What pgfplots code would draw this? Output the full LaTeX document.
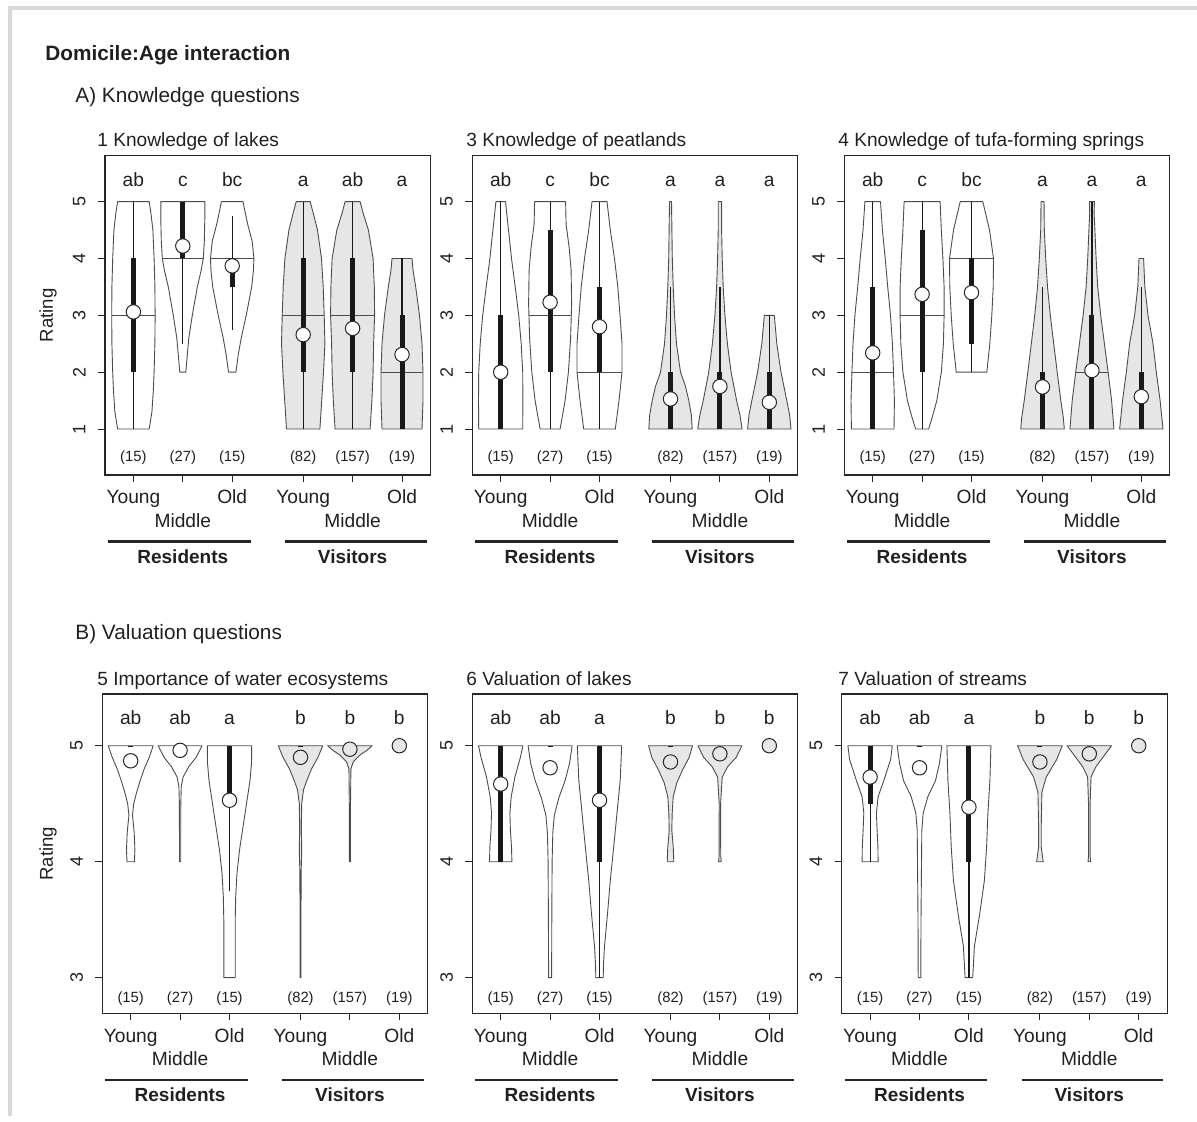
\documentclass[border=0pt]{standalone}
\usepackage{fontspec}
\setmainfont{Liberation Sans}
\usepackage{pgfplots}
\pgfplotsset{compat=1.18}
\definecolor{txt}{HTML}{231F20}
\definecolor{vis}{HTML}{E6E6E6}

% ---- violin drawing helpers ----
% x axis in pixels of the original panel, y axis in rating units
\newcommand\vshape[3]{% centre, fill, list of y/halfwidth
  \gdef\vR{}\gdef\vL{}%
  \foreach \yy/\ww in {#3}{%
    \pgfmathsetmacro\xa{#1+\ww}\pgfmathsetmacro\xb{#1-\ww}%
    \xdef\vR{\vR(\xa,\yy)}\xdef\vL{(\xb,\yy)\vL}}%
  \edef\vnext{\noexpand\addplot[vshape,fill=#2] coordinates {\vR\vL} -- cycle;}\vnext}
\newcommand\vmed[3]{% centre, median, half width
  \pgfmathsetmacro\xa{#1+#3}\pgfmathsetmacro\xb{#1-#3}%
  \edef\vnext{\noexpand\addplot[vmed] coordinates {(\xb,#2)(\xa,#2)};}\vnext}
\newcommand\vwh[3]{\addplot[whisk] coordinates {(#1,#2)(#1,#3)};}
\newcommand\viqr[3]{\addplot[iqr] coordinates {(#1,#2)(#1,#3)};}
\newcommand\vmean[3]{\addplot[only marks, mark=*, mark size=3.6pt,
   mark options={fill=#3, draw=black!85, line width=0.5pt}] coordinates {(#1,#2)};}
\newcommand\letters[7]{%
  \node[vlet] at (axis cs:28.4,#1) {#2};
  \node[vlet] at (axis cs:77.8,#1) {#3};
  \node[vlet] at (axis cs:127.2,#1) {#4};
  \node[vlet] at (axis cs:198.2,#1) {#5};
  \node[vlet] at (axis cs:247.6,#1) {#6};
  \node[vlet] at (axis cs:297,#1) {#7};}
\newcommand\counts[1]{%
  \node[vcnt] at (axis cs:28.4,#1) {(15)};
  \node[vcnt] at (axis cs:77.8,#1) {(27)};
  \node[vcnt] at (axis cs:127.2,#1) {(15)};
  \node[vcnt] at (axis cs:198.2,#1) {(82)};
  \node[vcnt] at (axis cs:247.6,#1) {(157)};
  \node[vcnt] at (axis cs:297,#1) {(19)};}

\tikzset{
  vlet/.style={anchor=base, text=txt, font=\fontsize{9.6}{11}\selectfont},
  vcnt/.style={anchor=center, text=txt, font=\fontsize{7.4}{8.5}\selectfont},
  ytl/.style={rotate=90, text=txt, font=\fontsize{9}{10}\selectfont},
}
\pgfplotsset{
  vshape/.style={draw=black!70, line width=0.45pt, line join=round},
  vmed/.style={draw=black!70, line width=0.45pt},
  whisk/.style={draw=black!90, line width=0.6pt},
  iqr/.style={draw=black!90, line width=2.5pt},
  vp/.style={scale only axis, width=162.75pt, height=159.65pt,
    xmin=0, xmax=325.5, xtick={28.4,77.8,127.2,198.2,247.6,297},
    xticklabels={}, yticklabels={},
    tick align=outside, tick pos=left, major tick length=3.5pt,
    axis line style={black!85, line width=0.65pt},
    tick style={black!85, line width=0.5pt},
    clip=false, anchor=south west},
  toprow/.style={vp, ymin=0.192, ymax=5.808, ytick={1,2,3,4,5},
    execute at end axis={\pgfplotsinvokeforeach{1,2,3,4,5}{%
      \node[ytl] at (axis cs:-25.7,##1) {##1};}}},
  botrow/.style={vp, ymin=2.693, ymax=5.446, ytick={3,4,5},
    execute at end axis={\pgfplotsinvokeforeach{3,4,5}{%
      \node[ytl] at (axis cs:-25.7,##1) {##1};}}},
}

\newcommand\plabels[2]{% left, bottom (pixels of the original)
  \node[lab] at (#1+28.4,1122-#2-29) {Young};
  \node[lab] at (#1+77.8,1122-#2-52.7) {Middle};
  \node[lab] at (#1+127.2,1122-#2-29) {Old};
  \node[lab] at (#1+198.2,1122-#2-29) {Young};
  \node[lab] at (#1+247.6,1122-#2-52.7) {Middle};
  \node[lab] at (#1+297,1122-#2-29) {Old};
  \draw[grp] (#1+3,1122-#2-66.7) -- (#1+145.7,1122-#2-66.7);
  \draw[grp] (#1+180,1122-#2-66.7) -- (#1+321.7,1122-#2-66.7);
  \node[glab] at (#1+77.8,1122-#2-88.3) {Residents};
  \node[glab] at (#1+247.6,1122-#2-88.3) {Visitors};}

\begin{document}
\begin{tikzpicture}[x=0.5pt,y=0.5pt,
  lab/.style={anchor=base, text=txt, font=\fontsize{9.6}{11}\selectfont},
  glab/.style={anchor=base, text=txt, font=\fontsize{9.5}{11}\selectfont\bfseries},
  grp/.style={draw=black!85, line width=1.3pt},
  ttl/.style={anchor=base west, inner sep=0pt, text=txt, font=\fontsize{9.55}{11}\selectfont}]
\useasboundingbox (0,0) rectangle (1197,1122);
\draw[black!15, line width=2pt] (8,1122-8.5) -- (1197,1122-8.5);
\draw[black!15, line width=2pt] (10.3,1122-7.5) -- (10.3,1122-1116);

\node[anchor=base west, inner sep=0pt, text=txt, font=\fontsize{10.4}{12}\selectfont\bfseries] at (45,1122-61) {Domicile:Age interaction};
\node[anchor=base west, inner sep=0pt, text=txt, font=\fontsize{10.4}{12}\selectfont] at (75,1122-102.7) {A) Knowledge questions};
\node[anchor=base west, inner sep=0pt, text=txt, font=\fontsize{10.4}{12}\selectfont] at (75,1122-640) {B) Valuation questions};
\node[rotate=90, text=txt, font=\fontsize{9.3}{11}\selectfont] at (48,1122-315.5) {Rating};
\node[rotate=90, text=txt, font=\fontsize{9.3}{11}\selectfont] at (48,1122-853.6) {Rating};

\node[ttl] at (97,1122-147) {1 Knowledge of lakes};
\node[ttl] at (466,1122-147) {3 Knowledge of peatlands};
\node[ttl] at (838,1122-147) {4 Knowledge of tufa-forming springs};
\node[ttl] at (97,1122-685.5) {5 Importance of water ecosystems};
\node[ttl] at (466,1122-685.5) {6 Valuation of lakes};
\node[ttl] at (838,1122-685.5) {7 Valuation of streams};

% ================= Panel 1 =================
\begin{axis}[toprow, at={(52.5pt,323.5pt)}]
\vshape{28.4}{white}{1/15.8, 1.3/18.5, 1.7/20, 2/20.7, 2.5/21.5, 3/21.7, 3.5/21.5, 4/20.7, 4.5/19.5, 4.8/17.5, 5/15.8}
\vmed{28.4}{3}{21.7}\vwh{28.4}{1}{5}\viqr{28.4}{2}{4}\vmean{28.4}{3.06}{white}
\vshape{77.8}{white}{2/3, 2.3/4.5, 2.6/6, 3/9.5, 3.5/14.5, 3.8/18.5, 4/20.5, 4.3/21.5, 4.7/22, 5/22}
\vmed{77.8}{4}{20.5}\vwh{77.8}{2.5}{5}\viqr{77.8}{4}{5}\vmean{77.8}{4.22}{white}
\vshape{127.2}{white}{2/3.7, 2.3/6, 2.6/9, 3/14, 3.5/19.5, 3.8/21.3, 4/21.7, 4.3/20, 4.6/15.5, 4.85/12.5, 5/10.8}
\vmed{127.2}{4}{21.7}\vwh{127.2}{2.75}{4.75}\viqr{127.2}{3.5}{4}\vmean{127.2}{3.87}{white}
\vshape{198.2}{vis}{1/16.7, 1.5/18.5, 2/20.3, 2.5/21.7, 3/21, 3.5/20, 4/18.3, 4.5/14.3, 4.8/10, 5/7}
\vmed{198.2}{3}{21}\vwh{198.2}{1}{5}\viqr{198.2}{2}{4}\vmean{198.2}{2.66}{white}
\vshape{247.6}{vis}{1/17.5, 1.5/19.3, 2/20.5, 2.5/21, 3/22, 3.5/21.7, 4/20.5, 4.5/15.8, 4.8/10.5, 5/7.5}
\vmed{247.6}{3}{22}\vwh{247.6}{1}{5}\viqr{247.6}{2}{4}\vmean{247.6}{2.77}{white}
\vshape{297}{vis}{1/20, 1.5/21, 2/21, 2.5/20, 3/17.5, 3.5/13.7, 3.8/11, 4/10}
\vmed{297}{2}{21}\vwh{297}{1}{4}\viqr{297}{1}{3}\vmean{297}{2.31}{white}
\letters{5.27}{ab}{c}{bc}{a}{ab}{a}
\counts{0.5}
\end{axis}

% ================= Panel 3 =================
\begin{axis}[toprow, at={(236.15pt,323.5pt)}]
\vshape{28.4}{white}{1/22, 1.5/22.2, 2/22, 2.5/20.5, 3/18, 3.5/14.5, 4/10.8, 4.5/7.8, 5/4.8}
\vwh{28.4}{1}{5}\viqr{28.4}{1}{3}\vmean{28.4}{2.0}{white}
\vshape{77.8}{white}{1/10, 1.5/15, 2/18.3, 2.6/20.5, 3.2/21.5, 3.8/21, 4.2/19, 4.6/16, 5/15.5}
\vmed{77.8}{3}{21.3}\vwh{77.8}{1}{5}\viqr{77.8}{2}{4.5}\vmean{77.8}{3.23}{white}
\vshape{127.2}{white}{1/15.8, 1.5/19.5, 2/22.5, 2.5/22.5, 3/20.5, 3.5/18.3, 4/15, 4.5/10.8, 5/7.5}
\vmed{127.2}{2}{22.5}\vwh{127.2}{1}{5}\viqr{127.2}{2}{3.5}\vmean{127.2}{2.80}{white}
\vshape{198.2}{vis}{1/21.7, 1.25/20.8, 1.5/18.3, 1.75/15, 2/10, 2.5/6, 3/4, 3.5/2.7, 4/1.8, 5/1}
\vwh{198.2}{1}{3.5}\viqr{198.2}{1}{2}\vmean{198.2}{1.53}{white}
\vshape{247.6}{vis}{1/22.2, 1.25/20, 1.5/16.7, 2/11.2, 2.5/7.5, 3/5, 3.5/3.3, 4/2.3, 4.5/1.7, 5/1.7}
\vwh{247.6}{1}{3.5}\viqr{247.6}{1}{2}\vmean{247.6}{1.75}{white}
\vshape{297}{vis}{1/21.7, 1.25/20.3, 1.5/17.5, 2/11.7, 2.5/7.5, 3/5}
\vwh{297}{1}{3}\viqr{297}{1}{2}\vmean{297}{1.47}{white}
\letters{5.27}{ab}{c}{bc}{a}{a}{a}
\counts{0.5}
\end{axis}

% ================= Panel 4 =================
\begin{axis}[toprow, at={(422.15pt,323.5pt)}]
\vshape{28.4}{white}{1/21.3, 1.5/21.7, 2/20.8, 2.5/19.7, 3/17.8, 3.5/15, 4/12.5, 4.5/9.7, 5/7.8}
\vmed{28.4}{2}{20.8}\vwh{28.4}{1}{5}\viqr{28.4}{1}{3.5}\vmean{28.4}{2.34}{white}
\vshape{77.8}{white}{1/6.5, 1.2/10, 1.5/14.7, 2/19.2, 2.5/21.3, 3/22, 3.5/22, 4/20.8, 4.5/19.2, 5/18}
\vmed{77.8}{3}{22}\vwh{77.8}{1}{5}\viqr{77.8}{2}{4.5}\vmean{77.8}{3.37}{white}
\vshape{127.2}{white}{2/15.3, 2.5/18.3, 3/20.3, 3.5/21.7, 4/22, 4.5/18, 5/11.3}
\vmed{127.2}{4}{22}\vwh{127.2}{2}{5}\viqr{127.2}{2.5}{4}\vmean{127.2}{3.40}{white}
\vshape{198.2}{vis}{1/21.8, 1.2/20.8, 1.5/18.3, 2/14.7, 2.5/11.2, 3/7.8, 3.5/5, 4/3.2, 4.5/1.8, 5/1.5}
\vwh{198.2}{1}{3.5}\viqr{198.2}{1}{2}\vmean{198.2}{1.74}{white}
\vshape{247.6}{vis}{1/22, 1.5/19.7, 2/16.2, 2.5/12.5, 3/8.8, 3.5/5.8, 4/4.2, 4.5/3, 4.8/2.2, 5/2.5}
\vmed{247.6}{2}{16.2}\vwh{247.6}{1}{5}\viqr{247.6}{1}{3}\vmean{247.6}{2.03}{white}
\vshape{297}{vis}{1/21.7, 1.5/18.8, 2/15, 2.5/11.7, 3/6.7, 3.5/3.5, 4/2.3}
\vwh{297}{1}{3.5}\viqr{297}{1}{2}\vmean{297}{1.57}{white}
\letters{5.27}{ab}{c}{bc}{a}{a}{a}
\counts{0.5}
\end{axis}

% ================= Panel 5 =================
\begin{axis}[botrow, at={(51.15pt,54.35pt)}]
\vshape{28.4}{white}{4/3.7, 4.1/4.2, 4.25/3.5, 4.4/1.8, 4.5/3, 4.6/6, 4.7/9.5, 4.8/13.5, 4.9/18.5, 5/22.5}
\viqr{28.4}{4.985}{5}\vmean{28.4}{4.87}{white}
\vshape{77.8}{white}{4/0.6, 4.5/0.7, 4.65/1.2, 4.73/3, 4.82/8.7, 4.9/16, 5/22}
\vmean{77.8}{4.96}{white}
\vshape{127.2}{white}{3/5.7, 3.5/5.7, 3.7/6.2, 3.9/7.5, 4.1/10, 4.3/13.5, 4.5/17, 4.7/20.5, 4.85/22, 5/22.2}
\vwh{127.2}{3.75}{5}\viqr{127.2}{4.5}{5}\vmean{127.2}{4.53}{white}
\vshape{198.2}{vis}{3/0.5, 3.5/0.5, 3.9/0.6, 4.1/1.2, 4.3/0.8, 4.5/1.2, 4.62/3, 4.7/6.3, 4.8/11, 4.9/17.5, 5/22.2}
\viqr{198.2}{4.985}{5}\vmean{198.2}{4.9}{vis}
\vshape{247.6}{vis}{4/0.6, 4.5/0.6, 4.8/1, 4.86/3.3, 4.92/10, 4.96/17, 5/22.3}
\vmean{247.6}{4.97}{vis}
\vmean{297}{5}{vis}
\letters{5.18}{ab}{ab}{a}{b}{b}{b}
\counts{2.82}
\end{axis}

% ================= Panel 6 =================
\begin{axis}[botrow, at={(236.15pt,54.35pt)}]
\vshape{28.4}{white}{4/11.2, 4.13/10.8, 4.27/9.7, 4.42/9.2, 4.56/10.5, 4.73/14.2, 4.9/19.7, 5/22.2}
\viqr{28.4}{4}{5}\vmean{28.4}{4.67}{white}
\vshape{77.8}{white}{3/1.5, 3.5/1.7, 4/2, 4.25/2.7, 4.4/4.2, 4.55/8.7, 4.7/15, 4.85/19.5, 5/22}
\viqr{77.8}{4.985}{5}\vmean{77.8}{4.81}{white}
\vshape{127.2}{white}{3/3.7, 3.12/4, 3.27/5, 3.55/8, 3.84/10.8, 4.13/14.2, 4.42/17.5, 4.7/20.7, 5/22.2}
\vwh{127.2}{3}{4}\viqr{127.2}{4}{5}\vmean{127.2}{4.53}{white}
\vshape{198.2}{vis}{4/3.3, 4.13/2.7, 4.27/1.3, 4.42/1.7, 4.56/2.7, 4.68/6.3, 4.79/12, 4.9/18.7, 5/22}
\viqr{198.2}{4.985}{5}\vmean{198.2}{4.86}{vis}
\vshape{247.6}{vis}{4/1.3, 4.05/0.8, 4.5/0.7, 4.73/2.3, 4.82/7.8, 4.9/16.3, 5/22}
\vmean{247.6}{4.93}{vis}
\vmean{297}{5}{vis}
\letters{5.18}{ab}{ab}{a}{b}{b}{b}
\counts{2.82}
\end{axis}

% ================= Panel 7 =================
\begin{axis}[botrow, at={(420.85pt,54.35pt)}]
\vshape{28.4}{white}{4/8, 4.13/7.8, 4.27/7, 4.42/6.3, 4.56/8, 4.7/13.7, 4.88/20.5, 5/22.2}
\vwh{28.4}{4}{5}\viqr{28.4}{4.5}{5}\vmean{28.4}{4.73}{white}
\vshape{77.8}{white}{3/1.3, 3.5/1.5, 4/2, 4.27/2.3, 4.42/3.7, 4.56/8.3, 4.7/16, 4.85/20, 5/22.3}
\viqr{77.8}{4.985}{5}\vmean{77.8}{4.81}{white}
\vshape{127.2}{white}{3/3.8, 3.27/5.5, 3.55/10.8, 3.84/15.5, 4.13/17.7, 4.42/19, 4.7/21, 5/22}
\vwh{127.2}{3}{4}\viqr{127.2}{4}{5}\vmean{127.2}{4.47}{white}
\vshape{198.2}{vis}{4/3.3, 4.13/1.3, 4.3/1.3, 4.6/2, 4.73/6.3, 4.88/16.7, 5/22.3}
\viqr{198.2}{4.985}{5}\vmean{198.2}{4.86}{vis}
\vshape{247.6}{vis}{4/1.3, 4.05/0.8, 4.5/0.8, 4.73/1.7, 4.82/6.7, 4.92/15.3, 5/22.2}
\vmean{247.6}{4.93}{vis}
\vmean{297}{5}{vis}
\letters{5.18}{ab}{ab}{a}{b}{b}{b}
\counts{2.82}
\end{axis}

\plabels{105}{475}
\plabels{472.3}{475}
\plabels{844.3}{475}
\plabels{102.3}{1013.3}
\plabels{472.3}{1013.3}
\plabels{841.7}{1013.3}
\end{tikzpicture}
\end{document}
